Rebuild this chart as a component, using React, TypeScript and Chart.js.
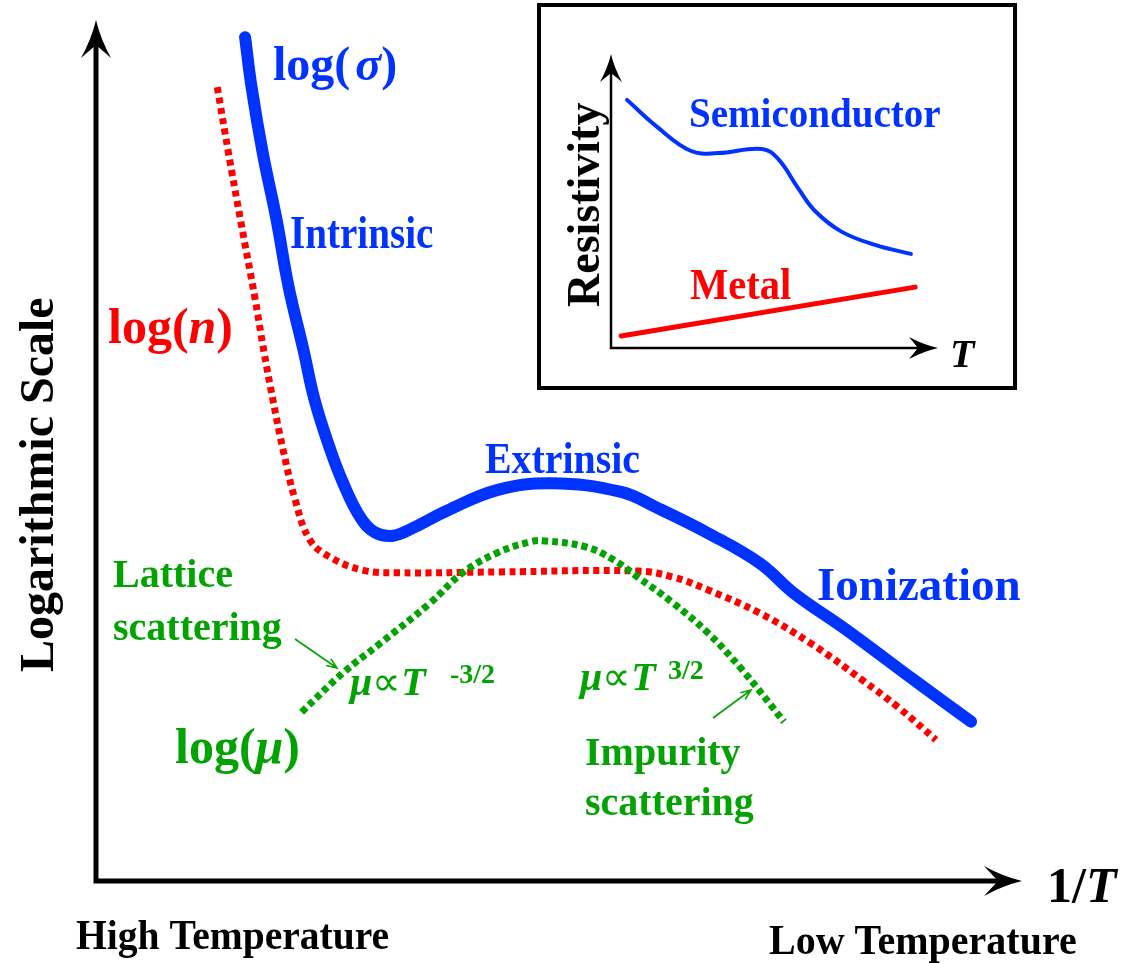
import React, { useEffect, useRef } from "react";
import { Chart, registerables } from "chart.js";
Chart.register(...registerables);

// ---------- Main chart data (x = 1/T, y = log scale, arbitrary units 0..10) ----------
const sigmaX = [1.61, 1.68, 1.8, 1.95, 2.08, 2.24, 2.36, 2.53, 2.67, 2.85, 3.01, 3.21, 3.44, 3.79, 4.33, 4.92, 5.67, 6.05, 6.61, 7.17, 7.54, 8.1, 8.84, 9.45];
const sigmaY = [9.8, 9.22, 8.46, 7.68, 6.9, 6.17, 5.59, 5.01, 4.62, 4.23, 4.05, 4.01, 4.11, 4.3, 4.54, 4.62, 4.52, 4.34, 4.04, 3.69, 3.34, 2.92, 2.33, 1.85];

const nX = [1.31, 1.43, 1.56, 1.72, 1.81, 1.91, 2.02, 2.15, 2.31, 2.53, 2.88, 3.25, 4.36, 5.85, 6.23, 6.61, 7.17, 7.72, 8.28, 8.66, 9.07];
const nY = [9.22, 8.46, 7.68, 6.75, 6.17, 5.59, 5.01, 4.43, 3.96, 3.76, 3.61, 3.58, 3.59, 3.6, 3.53, 3.38, 3.11, 2.76, 2.33, 2.02, 1.64];

const muX = [2.22, 2.67, 3.07, 3.61, 3.96, 4.33, 4.69, 4.85, 5.29, 5.59, 5.85, 6.23, 6.61, 6.98, 7.43];
const muY = [1.96, 2.42, 2.76, 3.23, 3.58, 3.81, 3.94, 3.95, 3.88, 3.73, 3.53, 3.23, 2.88, 2.45, 1.85];

// ---------- Inset data (x = T, y = resistivity, arbitrary units 0..10) ----------
const semiX = [0.49, 1.41, 2.45, 3.27, 4.62, 5.11, 5.72, 6.24, 7.06, 8.1, 9.17];
const semiY = [8.44, 7.52, 6.7, 6.63, 6.77, 6.43, 5.44, 4.66, 3.95, 3.5, 3.2];
const metalX = [0.31, 9.3];
const metalY = [0.41, 2.07];

const BLUE = "#0033ff";
const RED = "#ff0000";
const GREEN = "#00a300";
const FAMILY = '"Liberation Serif", "Times New Roman", serif';

type Run = { t: string; it?: boolean; gap?: number; reg?: boolean };

function drawRuns(
  ctx: CanvasRenderingContext2D,
  runs: Run[],
  x: number,
  y: number,
  size: number,
  color: string,
  sx = 1,
  rot = 0
) {
  ctx.save();
  ctx.translate(x, y);
  ctx.rotate(rot);
  ctx.scale(sx, 1);
  ctx.fillStyle = color;
  ctx.textBaseline = "alphabetic";
  ctx.textAlign = "left";
  let cx = 0;
  for (const r of runs) {
    cx += r.gap || 0;
    ctx.font = `${r.it ? "italic " : ""}${r.reg ? "" : "bold "}${size}px ${FAMILY}`;
    ctx.fillText(r.t, cx, 0);
    cx += ctx.measureText(r.t).width;
  }
  ctx.restore();
}

function arrowHead(
  ctx: CanvasRenderingContext2D,
  tx: number,
  ty: number,
  ang: number,
  len: number,
  hw: number,
  notch: number,
  color: string
) {
  const dx = Math.cos(ang);
  const dy = Math.sin(ang);
  const px = -dy;
  const py = dx;
  const bx = tx - dx * len;
  const by = ty - dy * len;
  ctx.save();
  ctx.fillStyle = color;
  ctx.beginPath();
  ctx.moveTo(tx, ty);
  ctx.quadraticCurveTo(tx - dx * len * 0.5 + px * hw * 0.3, ty - dy * len * 0.5 + py * hw * 0.3, bx + px * hw, by + py * hw);
  ctx.lineTo(tx - dx * notch, ty - dy * notch);
  ctx.lineTo(bx - px * hw, by - py * hw);
  ctx.quadraticCurveTo(tx - dx * len * 0.5 - px * hw * 0.3, ty - dy * len * 0.5 - py * hw * 0.3, tx, ty);
  ctx.closePath();
  ctx.fill();
  ctx.restore();
}

function thinArrow(ctx: CanvasRenderingContext2D, x1: number, y1: number, x2: number, y2: number, color: string) {
  const ang = Math.atan2(y2 - y1, x2 - x1);
  ctx.save();
  ctx.strokeStyle = color;
  ctx.lineWidth = 1.6;
  ctx.beginPath();
  ctx.moveTo(x1, y1);
  ctx.lineTo(x2, y2);
  const L = 11;
  const a = 0.38;
  ctx.moveTo(x2 - L * Math.cos(ang - a), y2 - L * Math.sin(ang - a));
  ctx.lineTo(x2, y2);
  ctx.lineTo(x2 - L * Math.cos(ang + a), y2 - L * Math.sin(ang + a));
  ctx.stroke();
  ctx.restore();
}

const pts = (xs: number[], ys: number[]) => xs.map((x, i) => ({ x, y: ys[i] }));

const mainPlugin = {
  id: "mainDecor",
  afterDraw(chart: any) {
    const ctx: CanvasRenderingContext2D = chart.ctx;
    const ca = chart.chartArea;
    ctx.save();
    ctx.strokeStyle = "#000";
    ctx.lineWidth = 5;
    ctx.lineJoin = "miter";
    ctx.beginPath();
    ctx.moveTo(ca.left, ca.top + 20);
    ctx.lineTo(ca.left, ca.bottom);
    ctx.lineTo(ca.right - 20, ca.bottom);
    ctx.stroke();
    ctx.restore();
    arrowHead(ctx, ca.left, ca.top, -Math.PI / 2, 38, 15, 25, "#000");
    arrowHead(ctx, ca.right, ca.bottom, 0, 38, 15, 24, "#000");

    drawRuns(ctx, [{ t: "log(" }, { t: "σ", it: true, gap: 5 }, { t: ")" }], 273, 80, 48, BLUE);
    drawRuns(ctx, [{ t: "Intrinsic" }], 290, 248, 46, BLUE, 0.85);
    drawRuns(ctx, [{ t: "log(" }, { t: "n", it: true }, { t: ")" }], 108, 343, 50, RED);
    drawRuns(ctx, [{ t: "Extrinsic" }], 485, 473, 45, BLUE, 0.886);
    drawRuns(ctx, [{ t: "Ionization" }], 817, 600, 47, BLUE);
    drawRuns(ctx, [{ t: "Lattice" }], 113, 587, 40, GREEN);
    drawRuns(ctx, [{ t: "scattering" }], 113, 640, 40, GREEN);
    drawRuns(ctx, [{ t: "log(" }, { t: "μ", it: true }, { t: ")" }], 175, 763, 50, GREEN);
    drawRuns(ctx, [{ t: "μ", it: true }, { t: "∝", reg: true }, { t: "T", it: true }], 350, 695, 40, GREEN);
    drawRuns(ctx, [{ t: "-3/2" }], 450, 683, 28, GREEN);
    drawRuns(ctx, [{ t: "μ", it: true }, { t: "∝", reg: true }, { t: "T", it: true }], 580, 690, 40, GREEN);
    drawRuns(ctx, [{ t: "3/2" }], 668, 679, 28, GREEN);
    drawRuns(ctx, [{ t: "Impurity" }], 585, 765, 40, GREEN);
    drawRuns(ctx, [{ t: "scattering" }], 585, 815, 40, GREEN);
    thinArrow(ctx, 295, 639, 337, 668, GREEN);
    thinArrow(ctx, 713, 718, 751, 690, GREEN);

    drawRuns(ctx, [{ t: "Logarithmic Scale" }], 53, 672, 48, "#000", 1, -Math.PI / 2);
    drawRuns(ctx, [{ t: "1/" }, { t: "T", it: true }], 1047, 902, 50, "#000");
    drawRuns(ctx, [{ t: "High Temperature" }], 76, 949, 43, "#000", 0.92);
    drawRuns(ctx, [{ t: "Low Temperature" }], 769, 954, 43, "#000", 0.93);
  },
};

const insetPlugin = {
  id: "insetDecor",
  beforeDraw(chart: any) {
    const ctx: CanvasRenderingContext2D = chart.ctx;
    ctx.save();
    ctx.fillStyle = "#fff";
    ctx.fillRect(539, 5, 476, 383);
    ctx.strokeStyle = "#000";
    ctx.lineWidth = 4;
    ctx.strokeRect(539, 5, 476, 383);
    ctx.restore();
  },
  afterDraw(chart: any) {
    const ctx: CanvasRenderingContext2D = chart.ctx;
    const ca = chart.chartArea;
    ctx.save();
    ctx.strokeStyle = "#000";
    ctx.lineWidth = 2.5;
    ctx.beginPath();
    ctx.moveTo(ca.left, ca.top + 15);
    ctx.lineTo(ca.left, ca.bottom);
    ctx.lineTo(ca.right - 15, ca.bottom);
    ctx.stroke();
    ctx.restore();
    arrowHead(ctx, ca.left, ca.top, -Math.PI / 2, 28, 11, 19, "#000");
    arrowHead(ctx, ca.right, ca.bottom, 0, 29, 11, 20, "#000");

    drawRuns(ctx, [{ t: "Semiconductor" }], 689, 127, 42, BLUE, 0.93);
    drawRuns(ctx, [{ t: "Metal" }], 690, 299, 45, RED, 0.9);
    drawRuns(ctx, [{ t: "Resistivity" }], 599, 307, 46, "#000", 1, -Math.PI / 2);
    drawRuns(ctx, [{ t: "T", it: true }], 950, 367, 40, "#000");
  },
};

function baseOptions(padding: any) {
  return {
    animation: false as const,
    responsive: false,
    events: [] as any[],
    layout: { padding },
    scales: {
      x: { type: "linear" as const, min: 0, max: 10, display: false },
      y: { type: "linear" as const, min: 0, max: 10, display: false },
    },
    plugins: { legend: { display: false }, tooltip: { enabled: false } },
    elements: { point: { radius: 0 } },
  };
}

export default function App() {
  const mainRef = useRef<HTMLCanvasElement>(null);
  const insetRef = useRef<HTMLCanvasElement>(null);

  useEffect(() => {
    const main = new Chart(mainRef.current!, {
      type: "line",
      data: {
        datasets: [
          {
            data: pts(muX, muY),
            borderColor: GREEN,
            borderWidth: 7,
            borderDash: [6, 4],
            tension: 0.4,
            pointRadius: 0,
            clip: false,
          },
          {
            data: pts(nX, nY),
            borderColor: RED,
            borderWidth: 7,
            borderDash: [6, 4.5],
            tension: 0.4,
            pointRadius: 0,
            clip: false,
          },
          {
            data: pts(sigmaX, sigmaY),
            borderColor: BLUE,
            borderWidth: 12,
            borderCapStyle: "round",
            borderJoinStyle: "round",
            tension: 0.4,
            pointRadius: 0,
            clip: false,
          },
        ],
      } as any,
      options: baseOptions({ left: 96, right: 110, top: 20, bottom: 82 }) as any,
      plugins: [mainPlugin],
    });

    const inset = new Chart(insetRef.current!, {
      type: "line",
      data: {
        datasets: [
          {
            data: pts(semiX, semiY),
            borderColor: BLUE,
            borderWidth: 4,
            borderCapStyle: "round",
            tension: 0.4,
            pointRadius: 0,
            clip: false,
          },
          {
            data: pts(metalX, metalY),
            borderColor: RED,
            borderWidth: 5,
            borderCapStyle: "round",
            pointRadius: 0,
            clip: false,
          },
        ],
      } as any,
      options: baseOptions({ left: 611, right: 194, top: 54, bottom: 615 }) as any,
      plugins: [insetPlugin],
    });

    return () => {
      main.destroy();
      inset.destroy();
    };
  }, []);

  const cs: React.CSSProperties = { position: "absolute", left: 0, top: 0, width: 1132, height: 963 };
  return (
    <div style={{ position: "absolute", left: 0, top: 0, width: 1132, height: 963, background: "#fff" }}>
      <canvas ref={mainRef} width={1132} height={963} style={cs} />
      <canvas ref={insetRef} width={1132} height={963} style={cs} />
    </div>
  );
}
